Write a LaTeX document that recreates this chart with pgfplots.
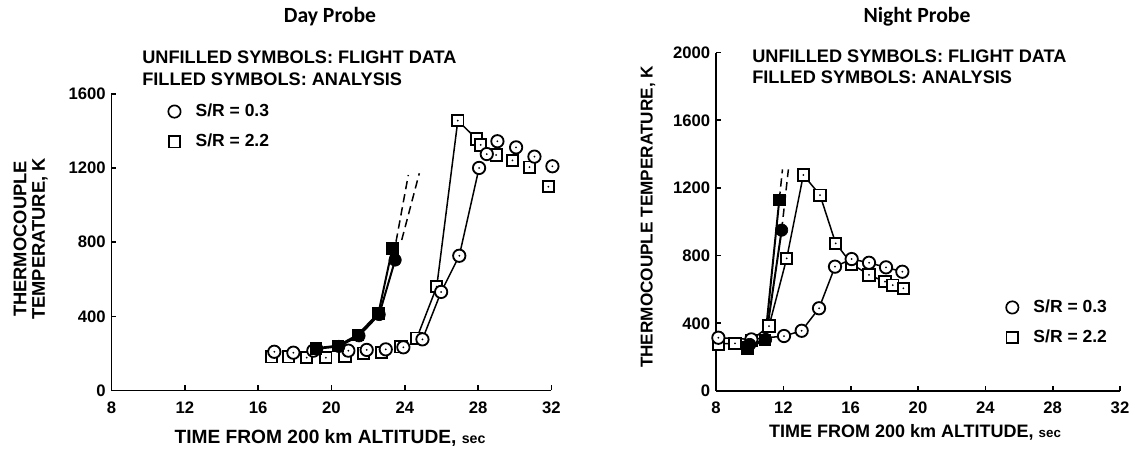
\documentclass[border=0pt]{standalone}
\usepackage{fontspec}
\setmainfont{Liberation Sans}
\newfontfamily\titlefont{Carlito}
\usepackage{pgfplots}
\pgfplotsset{compat=1.18}

% open symbols with a dot in the middle (flight data)
\pgfdeclareplotmark{odot}{%
  \pgfpathcircle{\pgfpointorigin}{\pgfplotmarksize}%
  \pgfusepathqfillstroke
  \begin{pgfscope}\pgfsetfillcolor{black}%
  \pgfpathcircle{\pgfpointorigin}{0.6pt}\pgfusepathqfill\end{pgfscope}%
}
\pgfdeclareplotmark{sdot}{%
  \pgfpathrectangle{\pgfpoint{-\pgfplotmarksize}{-\pgfplotmarksize}}%
    {\pgfpoint{2\pgfplotmarksize}{2\pgfplotmarksize}}%
  \pgfusepathqfillstroke
  \begin{pgfscope}\pgfsetfillcolor{black}%
  \pgfpathcircle{\pgfpointorigin}{0.6pt}\pgfusepathqfill\end{pgfscope}%
}

\pgfplotsset{
  probe/.style={
    scale only axis,
    axis x line*=bottom, axis y line*=left,
    xmin=8, xmax=32, xtick={8,12,...,32},
    ymin=0,
    tick align=inside, major tick length=3pt,
    axis line style={line width=1pt},
    every tick/.style={black, line width=1pt},
    clip=false,
    tick label style={font=\fontsize{10}{12}\selectfont\bfseries},
    xticklabel style={yshift=-3pt},
    /pgf/number format/assume math mode=true,
    /pgf/number format/set thousands separator={},
    legend style={draw=none, fill=none, font=\fontsize{10.5}{12}\selectfont\bfseries,
      row sep=5pt, cells={anchor=west},
      /tikz/every odd column/.append style={column sep=7pt}},
  },
  fl/.style={line width=0.9pt, black, no markers},
  an/.style={line width=1.2pt, black, no markers},
  ext/.style={line width=0.9pt, black, dash pattern=on 5pt off 3pt, no markers},
  fc/.style={only marks, mark=odot, mark size=3.7pt, line width=1.1pt, mark options={fill=white, draw=black}},
  fs/.style={only marks, mark=sdot, mark size=3.4pt, line width=1.1pt, mark options={fill=white, draw=black}},
  ac/.style={only marks, mark=*, mark size=3.7pt, mark options={fill=black, draw=black}},
  as/.style={only marks, mark=square*, mark size=3.4pt, mark options={fill=black, draw=black}},
}

\begin{document}
\begin{tikzpicture}
\path[use as bounding box] (0,0) rectangle (681pt,270pt);

% ---------------- Day probe ----------------
\begin{axis}[probe,
  at={(66.9pt,35.7pt)}, anchor=south west,
  width=264pt, height=177.9pt,
  ymax=1600, ytick={0,400,...,1600},
  legend style={at={(0.117,0.99)}, anchor=north west}]
\addlegendimage{only marks, mark=o, mark size=3.7pt, line width=1pt}
\addlegendentry{S/R = 0.3}
\addlegendimage{only marks, mark=square, mark size=3.4pt, line width=1pt}
\addlegendentry{S/R = 2.2}

\addplot[fl] coordinates {(24.96,276) (25.98,532) (26.97,727) (28.05,1201)};
\addplot[fl] coordinates {(24.65,282) (25.74,560) (26.89,1456) (27.92,1357) (28.14,1325)};
\addplot[an] coordinates {(19.2,225) (20.4,238) (21.5,295) (22.6,410) (23.47,704)};
\addplot[an] coordinates {(19.14,228) (20.36,242) (21.43,300) (22.56,417) (23.32,767)};
\addplot[ext] coordinates {(23.52,803) (24.19,1163)};
\addplot[ext] coordinates {(23.83,812) (24.79,1172)};

% flight data, S/R = 2.2
\addplot[fs] coordinates {
  (16.74,182) (17.65,182) (18.65,177) (19.69,177) (20.74,186) (21.74,201)
  (22.74,204) (23.79,236) (24.65,282) (25.74,560) (26.89,1456) (27.92,1357)
  (28.14,1325) (28.98,1271) (29.87,1242) (30.80,1205) (31.83,1100)};
% flight data, S/R = 0.3
\addplot[fc] coordinates {
  (16.88,209) (17.92,204) (19.01,215) (20.92,215) (21.92,219) (22.96,222)
  (23.92,233) (24.96,276) (25.98,532) (26.97,727) (28.05,1201) (28.47,1276)
  (29.05,1345) (30.07,1312) (31.07,1262) (32.05,1210)};
% analysis
\addplot[ac] coordinates {(19.2,225) (20.4,238) (21.5,295) (22.6,410) (23.47,704)};
\addplot[as] coordinates {(19.14,228) (20.36,242) (21.43,300) (22.56,417) (23.32,767)};
\end{axis}

% ---------------- Night probe ----------------
\begin{axis}[probe,
  at={(429.6pt,35.4pt)}, anchor=south west,
  width=242.4pt, height=203pt,
  ymax=2000, ytick={0,400,...,2000},
  legend style={at={(0.705,0.29)}, anchor=north west}]
\addlegendimage{only marks, mark=o, mark size=3.7pt, line width=1pt}
\addlegendentry{S/R = 0.3}
\addlegendimage{only marks, mark=square, mark size=3.4pt, line width=1pt}
\addlegendentry{S/R = 2.2}

\addplot[fl] coordinates {(8.14,315) (10.1,305) (12.04,325) (13.09,356) (14.12,489)
  (15.07,735) (16.06,780) (17.09,758) (18.1,731) (19.07,705)};
\addplot[fl] coordinates {(8.14,278) (9.13,282) (10.1,300) (11.15,384) (12.2,784)
  (13.19,1277) (14.18,1158) (15.11,873) (16.06,751) (17.09,686) (18.04,646)
  (18.5,626) (19.13,607)};
\addplot[an] coordinates {(10.0,275) (10.95,305) (11.9,951)};
\addplot[an] coordinates {(9.86,252) (10.91,301) (11.76,1130)};
\addplot[ext] coordinates {(11.76,1130) (11.95,1310)};
\addplot[ext] coordinates {(11.9,951) (12.3,1310)};

\addplot[fs] coordinates {(8.14,278) (9.13,282) (10.1,300) (11.15,384) (12.2,784)
  (13.19,1277) (14.18,1158) (15.11,873) (16.06,751) (17.09,686) (18.04,646)
  (18.5,626) (19.13,607)};
\addplot[fc] coordinates {(8.14,315) (10.1,305) (12.04,325) (13.09,356) (14.12,489)
  (15.07,735) (16.06,780) (17.09,758) (18.1,731) (19.07,705)};
\addplot[ac] coordinates {(10.0,275) (10.95,305) (11.9,951)};
\addplot[as] coordinates {(9.86,252) (10.91,301) (11.76,1130)};
\end{axis}

% ---------------- texts ----------------
\node[font=\titlefont\bfseries\fontsize{13}{15}\selectfont] at (198pt,259.8pt) {Day Probe};
\node[font=\titlefont\bfseries\fontsize{13}{15}\selectfont] at (550.2pt,259.8pt) {Night Probe};

\begin{scope}[every node/.style={font=\fontsize{10.9}{12}\selectfont\bfseries, anchor=base west, inner sep=0pt}]
\node at (85.2pt,231.6pt) {UNFILLED SYMBOLS:\ FLIGHT DATA};
\node at (85.2pt,218.4pt) {FILLED SYMBOLS:\ ANALYSIS};
\node at (451.2pt,232.4pt) {UNFILLED SYMBOLS:\ FLIGHT DATA};
\node at (451.2pt,220pt) {FILLED SYMBOLS:\ ANALYSIS};
\end{scope}

\begin{scope}[every node/.style={font=\fontsize{11}{13}\selectfont\bfseries, inner sep=0pt}]
\node[rotate=90] at (12pt,126.6pt) {THERMOCOUPLE};
\node[rotate=90] at (24pt,126.6pt) {TEMPERATURE, K};
\node[rotate=90, font=\fontsize{10.3}{12}\selectfont\bfseries] at (388.8pt,139.8pt) {THERMOCOUPLE TEMPERATURE, K};
\node[font=\fontsize{11.5}{13}\selectfont\bfseries] at (198pt,7.2pt) {TIME FROM 200 km ALTITUDE, {\fontsize{8.5}{10}\selectfont sec}};
\node[font=\fontsize{10.8}{12}\selectfont\bfseries] at (549pt,10.8pt) {TIME FROM 200 km ALTITUDE, {\fontsize{8}{10}\selectfont sec}};
\end{scope}
\end{tikzpicture}
\end{document}
